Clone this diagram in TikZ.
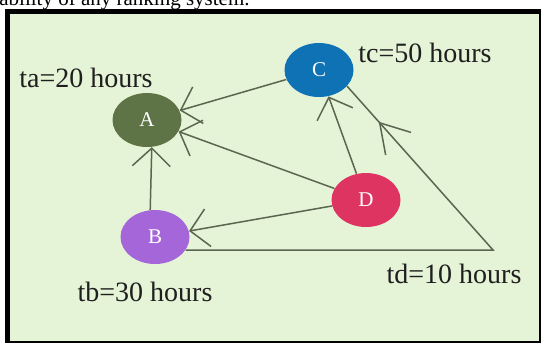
\documentclass[tikz,border=0pt]{standalone}
\usepackage{fontspec}
\setmainfont{Liberation Serif}
\usepackage{tikz}
\usetikzlibrary{arrows.meta,positioning,shapes.geometric,decorations.markings}
\definecolor{Leaf}{HTML}{E5F3D6}
\definecolor{Olive}{HTML}{5E7446}
\definecolor{Ocean}{HTML}{0E72B4}
\definecolor{Rose}{HTML}{DD3462}
\definecolor{Lilac}{HTML}{A566D9}
\definecolor{Twig}{HTML}{5A6650}
\definecolor{Ink}{HTML}{1F1F1F}

\begin{document}
\begin{tikzpicture}[x=0.5pt,y=-0.5pt,
  task/.style={ellipse,minimum width=34.5pt,minimum height=27pt,inner sep=0pt,text=white,font=\fontsize{10.5}{12}\selectfont},
  lbl/.style={text=Ink,font=\fontsize{14}{16}\selectfont,inner sep=0pt},
  arr/.style={-{Straight Barb[length=9pt,width=19pt]},line width=0.75pt,color=Twig},
  link/.style={line width=0.75pt,color=Twig,postaction={decorate},
    decoration={markings,mark=at position 0.91 with {\arrow{Straight Barb[length=14pt,width=17pt]}}}}
]
\useasboundingbox (0,0) rectangle (544,344);
% frame
\fill[black] (5,9) rectangle (541,343);
\fill[Leaf] (10,14) rectangle (539,341);
% caption line cut off by the crop
\begin{scope}
\clip (0,0) rectangle (544,9);
\node[anchor=base east,font=\fontsize{10.5}{12}\selectfont,inner sep=0pt] (cap) at (250,5) {ability of any ranking system.};
\end{scope}
% tasks
\node[task,fill=Olive] (A) at (147,120) {A};
\node[task,fill=Ocean,on grid,above right=25pt and 86pt of A] (C) {C};
\node[task,fill=Rose,on grid,below right=40pt and 109.5pt of A] (D) {D};
\node[task,fill=Lilac,on grid,below right=58.5pt and 4pt of A] (B) {B};
\coordinate (bend) at (493,250);
% times
\node[lbl,on grid,above left=21pt and 30.5pt of A] (ta) {ta=20 hours};
\node[lbl,on grid,above right=8.5pt and 53pt of C] (tc) {tc=50 hours};
\node[lbl,on grid,below left=27.5pt and 5pt of B] (tb) {tb=30 hours};
\node[lbl] (td) at (454,274) {td=10 hours};
% links
\draw[arr] (C) -- (A);
\draw[arr] (D) -- (A);
\draw[arr] (B.100) -- (A.-80);
\draw[arr] (D) -- (B);
\draw[arr] (D) -- (C);
\draw[link] (B.-23) -- (bend) -- (C.-30);
\end{tikzpicture}
\end{document}
